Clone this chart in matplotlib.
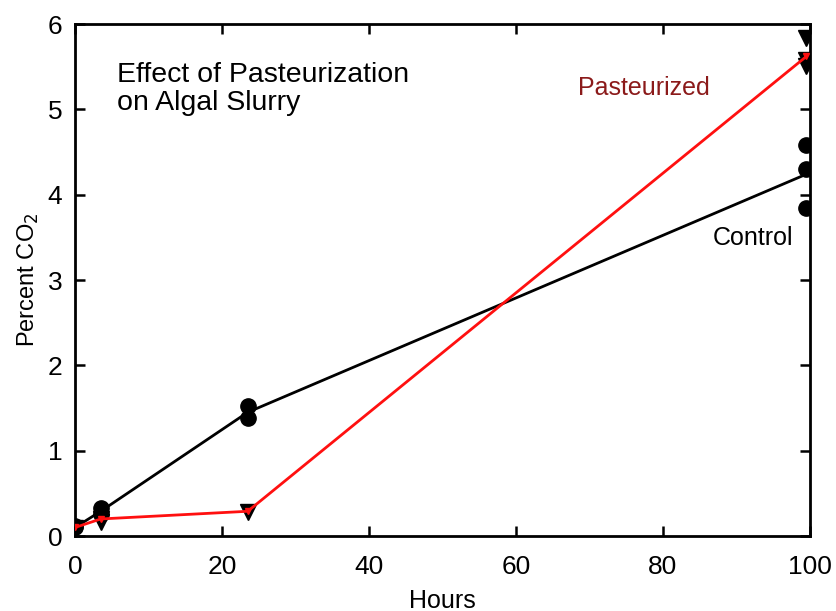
import matplotlib
matplotlib.use('Agg')
import matplotlib.pyplot as plt

plt.rcParams['font.family'] = ['Liberation Sans', 'DejaVu Sans']
plt.rcParams['xtick.direction'] = 'in'
plt.rcParams['ytick.direction'] = 'in'

# individual measurements
ctrl_x = [0, 0, 3.5, 3.5, 23.5, 23.5, 99.5, 99.5, 99.5]
ctrl_y = [0.12, 0.10, 0.33, 0.26, 1.52, 1.38, 4.58, 4.30, 3.84]
past_x = [0, 3.5, 3.5, 23.5, 99.5, 99.5, 99.5]
past_y = [0.09, 0.20, 0.16, 0.28, 5.84, 5.58, 5.51]

# mean lines
mean_x = [0, 3.5, 23.5, 99.5]
ctrl_mean = [0.10, 0.29, 1.45, 4.24]
past_mean = [0.10, 0.20, 0.29, 5.62]

fig = plt.figure(figsize=(8.36, 6.11), dpi=100)
ax = fig.add_axes([0.0897, 0.1227, 0.8792, 0.838])

ax.plot(mean_x, ctrl_mean, color='black', lw=2, zorder=2)
ax.plot(ctrl_x, ctrl_y, 'o', color='black', ms=11, zorder=3)
ax.plot(past_x, past_y, 'v', color='black', ms=11, zorder=3)
ax.plot(mean_x, past_mean, color='#ff1010', lw=2, marker='v', ms=5,
        mfc='#ff1010', mec='#ff1010', zorder=4)

ax.set_xlim(0, 100)
ax.set_ylim(0, 6)
ax.set_xticks([0, 20, 40, 60, 80, 100])
ax.set_yticks([0, 1, 2, 3, 4, 5, 6])
ax.tick_params(top=True, right=True, labelsize=19, length=7, width=1.8)
ax.tick_params(axis='x', pad=14)
ax.tick_params(axis='y', pad=9)
for s in ax.spines.values():
    s.set_linewidth(2)

ax.set_xlabel('Hours', fontsize=18, labelpad=7)
ax.set_ylabel('Percent CO$_2$', fontsize=17, labelpad=5)

ax.text(5.7, 5.55, 'Effect of Pasteurization\non Algal Slurry', fontsize=20.5,
        va='top', ha='left', linespacing=1.08)
ax.text(68.4, 5.17, 'Pasteurized', fontsize=18, color='#8b1a1a')
ax.text(86.8, 3.415, 'Control', fontsize=18, color='black')

fig.savefig('out.png', dpi=100)
